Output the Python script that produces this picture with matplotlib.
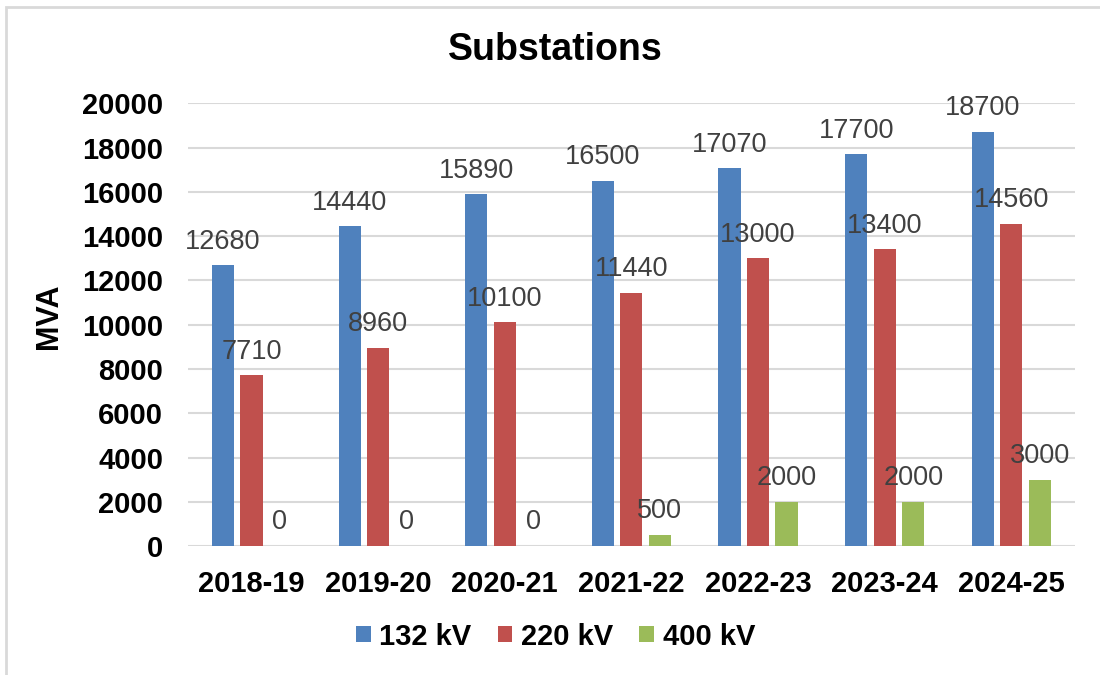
import numpy as np
import matplotlib
matplotlib.use("Agg")
import matplotlib.pyplot as plt
from matplotlib.patches import Rectangle

plt.rcParams['font.family'] = ['Liberation Sans', 'DejaVu Sans']

years = ["2018-19", "2019-20", "2020-21", "2021-22", "2022-23", "2023-24", "2024-25"]
kv132 = [12680, 14440, 15890, 16500, 17070, 17700, 18700]
kv220 = [7710, 8960, 10100, 11440, 13000, 13400, 14560]
kv400 = [0, 0, 0, 500, 2000, 2000, 3000]

series = [("132 kV", kv132, "#4f81bd"),
          ("220 kV", kv220, "#c0504d"),
          ("400 kV", kv400, "#9bbb59")]

fig = plt.figure(figsize=(11, 6.75), dpi=100)
ax = fig.add_axes([0.171, 0.191, 0.806, 0.656])

# frame around the whole chart (only left/top visible in the reference)
fig.patches.append(Rectangle((0.005, -0.1), 1.2, 1.09, transform=fig.transFigure,
                             fill=False, edgecolor="#d9d9d9", linewidth=2))

ind = np.arange(len(years))
width = 0.175
offsets = [-0.225, 0.0, 0.225]

for (name, vals, col), off in zip(series, offsets):
    rects = ax.bar(ind + off, vals, width, color=col, label=name, zorder=3)
    for r, v in zip(rects, vals):
        ax.annotate(str(v), (r.get_x() + r.get_width() / 2, v),
                    xytext=(0, 17), textcoords="offset points",
                    ha="center", va="center", fontsize=19.5, color="#404040", zorder=4)

ax.set_xlim(-0.5, len(years) - 0.5)
ax.set_ylim(0, 20000)
ax.set_yticks(np.arange(0, 20001, 2000))
ax.set_xticks(ind)
ax.set_xticklabels(years)
ax.set_yticklabels([str(t) for t in range(0, 20001, 2000)])
ax.yaxis.grid(True, color="#d9d9d9", linewidth=1.5, zorder=0)
ax.set_axisbelow(True)
for s in ax.spines.values():
    s.set_visible(False)
ax.tick_params(axis="both", length=0, labelsize=21)
ax.tick_params(axis="y", pad=18)
ax.tick_params(axis="x", pad=17)
for lab in ax.get_xticklabels() + ax.get_yticklabels():
    lab.set_fontweight("bold")

ax.set_ylabel("MVA", fontsize=22, fontweight="bold")
ax.yaxis.set_label_coords(-0.14, 0.52)
fig.text(0.505, 0.926, "Substations", ha="center", va="center",
         fontsize=27, fontweight="bold")

fig.legend(loc="center", bbox_to_anchor=(0.505, 0.057), ncol=3, frameon=False,
           prop={"weight": "bold", "size": 21}, handlelength=0.5,
           handleheight=0.5, handletextpad=0.3, columnspacing=0.9)

fig.savefig("out.png", dpi=100)
